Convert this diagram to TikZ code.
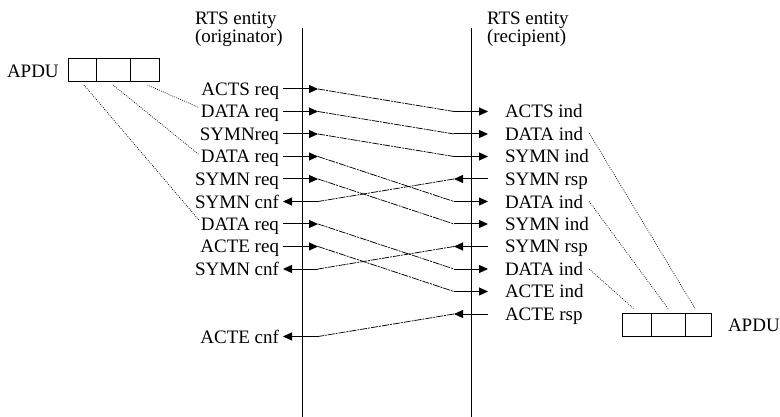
\documentclass[tikz,border=0pt]{standalone}
\usepackage{fontspec}
\setmainfont{Liberation Serif}
\usetikzlibrary{positioning, arrows.meta, calc}

\begin{document}
\begin{tikzpicture}[x=1pt, y=-1pt,
    every node/.style={inner sep=0pt, outer sep=0pt, font=\fontsize{19}{14.5}\selectfont},
    lbl/.style={text height=13pt, text depth=0pt},
    cell/.style={draw, line width=0.9pt, minimum height=23pt},
    sig/.style={line width=1pt, -{Triangle[length=9pt, width=8pt]}},
    link/.style={line width=0.75pt, dash pattern=on 7pt off 1pt on 2pt off 1pt},
    dots/.style={line width=0.7pt, dash pattern=on 0.8pt off 1.3pt}]

    \useasboundingbox (0,0) rectangle (780,417);

    % the two entities
    \node[anchor=north west, align=left] (orig) at (195,12) {RTS entity\\(originator)};
    \node[anchor=north west, align=left] (recp) at (487,12) {RTS entity\\(recipient)};
    \coordinate (lt) at (302,28);
    \coordinate (lb) at (302,417);
    \coordinate (rt) at (471,28);
    \coordinate (rb) at (471,417);
    \draw[line width=1pt] (lt) -- (lb);
    \draw[line width=1pt] (rt) -- (rb);

    % rows
    \foreach \k in {0,...,11} {
        \coordinate (a\k) at (283,89+22.5*\k);
        \coordinate (b\k) at (318,89+22.5*\k);
        \coordinate (c\k) at (454,89+22.5*\k);
        \coordinate (d\k) at (488,89+22.5*\k);
    }

    \foreach \k/\t in {0/ACTS req, 1/DATA req, 2/SYMNreq, 3/DATA req, 4/SYMN req,
                       5/SYMN cnf, 6/DATA req, 7/ACTE req, 8/SYMN cnf, 11/ACTE cnf}
        \node[lbl, left=4pt of a\k] (o\k) {\t};
    \foreach \k/\t in {1/ACTS ind, 2/DATA ind, 3/SYMN ind, 4/SYMN rsp, 5/DATA ind,
                       6/SYMN ind, 7/SYMN rsp, 8/DATA ind, 9/ACTE ind, 10/ACTE rsp}
        \node[lbl, right=17pt of d\k] (r\k) {\t};

    % requests
    \foreach \s/\t in {0/1, 1/2, 2/3, 3/5, 4/6, 6/8, 7/9} {
        \draw[sig] (a\s) -- (b\s);
        \draw[link] (b\s) -- (c\t);
        \draw[sig] (c\t) -- (d\t);
    }
    % responses
    \foreach \s/\t in {4/5, 7/8, 10/11} {
        \draw[sig] (d\s) -- (c\s);
        \draw[link] (c\s) -- (b\t);
        \draw[sig] (b\t) -- (a\t);
    }

    % APDU, sending side
    \node[lbl, anchor=west] (apduL) at (7,71) {APDU};
    \node[cell, minimum width=28pt] (pl1) at (82,69.5) {};
    \node[cell, minimum width=34pt, right=0pt of pl1] (pl2) {};
    \node[cell, minimum width=29pt, right=0pt of pl2] (pl3) {};
    \draw[dots] ([xshift=2pt,yshift=-4pt]pl1.south) -- ([xshift=-2pt,yshift=4pt]o6.west);
    \draw[dots] ([yshift=-4pt]pl2.south) -- ([xshift=-2pt,yshift=2pt]o3.west);
    \draw[dots] ([xshift=3pt,yshift=-4pt]pl3.south) -- ([xshift=-2pt,yshift=4pt]o1.west);

    % APDU, receiving side
    \node[cell, minimum width=29pt] (pr1) at (636.5,325) {};
    \node[cell, minimum width=34pt, right=0pt of pr1] (pr2) {};
    \node[cell, minimum width=26pt, right=0pt of pr2] (pr3) {};
    \node[lbl, anchor=west] (apduR) at (728,325) {APDU};
    \draw[dots] ([xshift=6pt,yshift=1pt]r2.east) -- ([xshift=-3pt,yshift=5pt]pr3.north);
    \draw[dots] ([xshift=6pt]r5.east) -- ([yshift=5pt]pr2.north);
    \draw[dots] ([xshift=6pt]r8.east) -- ([xshift=-3pt,yshift=5pt]pr1.north);
\end{tikzpicture}
\end{document}
